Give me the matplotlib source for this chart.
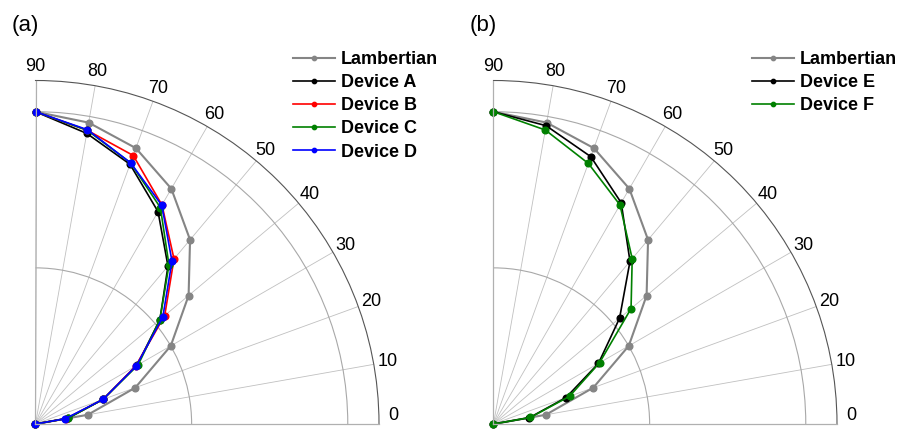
import numpy as np
import matplotlib
matplotlib.use("Agg")
from matplotlib import pyplot as plt

plt.rcParams['font.family'] = ['Liberation Sans', 'DejaVu Sans']

# emission angle (deg) and normalised intensity
angles = [0, 10, 20, 30, 40, 50, 60, 70, 80, 90]
lambertian = [0.0, 0.17, 0.34, 0.50, 0.64, 0.77, 0.87, 0.94, 0.98, 1.0]
device_a = [0.0, 0.105, 0.23, 0.375, 0.52, 0.66, 0.785, 0.885, 0.945, 1.0]
device_b = [0.0, 0.100, 0.23, 0.370, 0.54, 0.69, 0.810, 0.915, 0.955, 1.0]
device_c = [0.0, 0.105, 0.23, 0.380, 0.52, 0.665, 0.800, 0.890, 0.955, 1.0]
device_d = [0.0, 0.096, 0.23, 0.373, 0.532, 0.68, 0.809, 0.890, 0.957, 1.0]
device_e = [0.0, 0.117, 0.247, 0.388, 0.527, 0.68, 0.818, 0.911, 0.970, 1.0]
device_f = [0.0, 0.120, 0.259, 0.392, 0.575, 0.691, 0.810, 0.888, 0.956, 1.0]

tick_labels = [str(a) for a in angles]

panels = [
    ("(a)", [("Lambertian", lambertian, "#858585"),
             ("Device A", device_a, "black"),
             ("Device B", device_b, "red"),
             ("Device C", device_c, "green"),
             ("Device D", device_d, "blue")]),
    ("(b)", [("Lambertian", lambertian, "#858585"),
             ("Device E", device_e, "black"),
             ("Device F", device_f, "green")]),
]

W, H = 904, 430
fig = plt.figure(figsize=(W / 100, H / 100), dpi=100)

origins = [(35.5, 424), (493.5, 424)]
size = 343.5
legend_x = [293, 752]

theta = np.deg2rad(angles)

for (tag, series), (ox, oy), lx in zip(panels, origins, legend_x):
    ax = fig.add_axes([ox / W, (H - oy) / H, size / W, size / H], projection='polar')
    ax.set_thetamin(0)
    ax.set_thetamax(90)
    ax.set_rlim(0, 1.1)
    ax.set_rticks([0.5, 1.0])
    ax.set_yticklabels([])
    ax.set_thetagrids(angles, labels=[])
    ax.grid(True, axis='y', color='#a8a8a8', lw=0.8)
    ax.grid(True, axis='x', color='#c0c0c0', lw=0.6)
    ax.tick_params(axis='x', direction='in', length=4, width=0.6, colors='#555555', pad=0)
    ax.spines['polar'].set_color('#555555')
    ax.spines['polar'].set_linewidth(0.8)
    for s in ('start', 'end'):
        ax.spines[s].set_color('#b0b0b0')
        ax.spines[s].set_linewidth(0.9)
    ax.spines['inner'].set_visible(False)

    # angle labels just outside the arc; the 0 label sits on the bottom edge
    for t, lab in zip(theta, tick_labels):
        if lab == "0":
            ax.text(t, 1.145, lab, ha='center', va='bottom', fontsize=13, clip_on=False)
        else:
            ax.text(t, 1.145, lab, ha='center', va='center', fontsize=13, clip_on=False)

    for name, vals, col in series:
        lw = 1.5 if name == "Lambertian" else 1.2
        ax.plot(theta, vals, color=col, lw=lw, marker='o', ms=4.8, label=name, clip_on=False)

    ax.legend(loc='upper left', bbox_to_anchor=(lx / W, 1 - 51 / H),
              bbox_transform=fig.transFigure, frameon=False,
              prop={'weight': 'bold', 'size': 13}, handlelength=2.3,
              handletextpad=0.35, labelspacing=0.34, borderpad=0, borderaxespad=0,
              markerscale=0.65)

    fig.text((ox - 24) / W, 1 - 26 / H, tag, fontsize=16, ha='left', va='center')

fig.savefig("out.png", dpi=100)
